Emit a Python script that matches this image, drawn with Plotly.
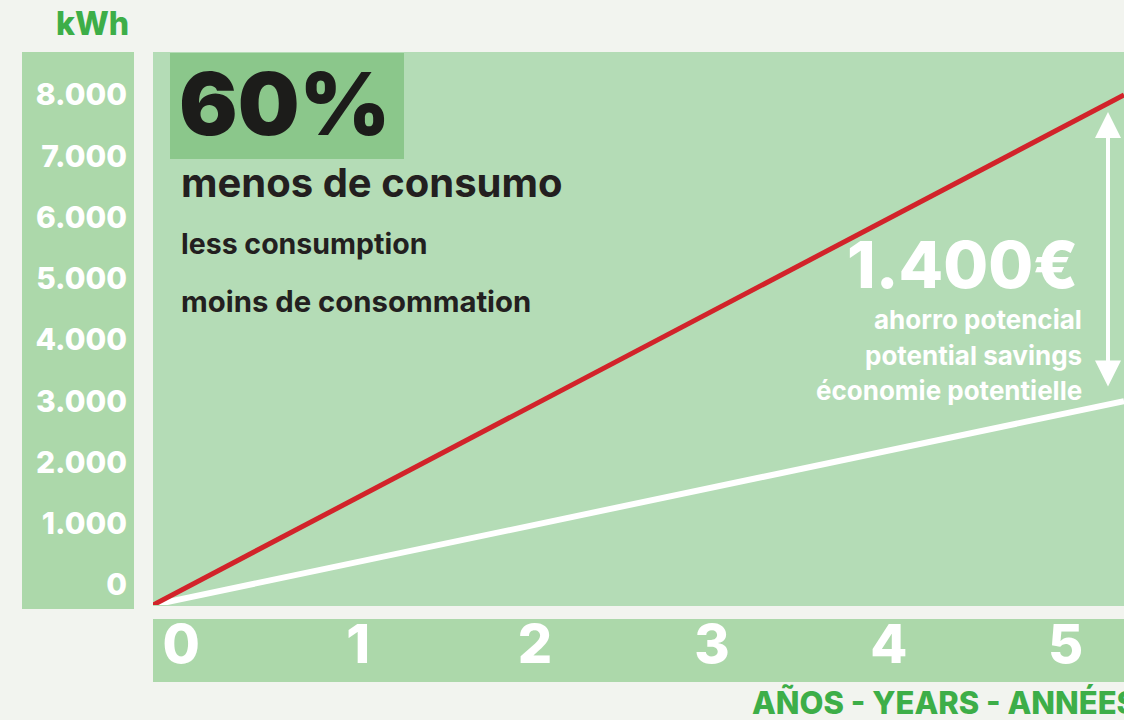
import plotly.graph_objects as go

# ---- data ----
years = [-0.16, 5.33]              # lines run from the lower-left corner to the right edge
kwh_actual = [-330, 8000]          # red line: consumption without saving
kwh_saving = [-330, 3000]          # white line: consumption with 60% saving
x_ticks = [0, 1, 2, 3, 4, 5]
y_ticks = [0, 1000, 2000, 3000, 4000, 5000, 6000, 7000, 8000]
y_tick_text = ["0", "1.000", "2.000", "3.000", "4.000", "5.000", "6.000", "7.000", "8.000"]

W, H = 1124, 720
FONT = "Inter"

def px(x):
    return x / W

def py(y):
    return 1 - y / H

fig = go.Figure()
fig.add_trace(go.Scatter(x=years, y=kwh_saving, mode="lines",
                         line=dict(color="#ffffff", width=6), showlegend=False,
                         hoverinfo="skip"))
fig.add_trace(go.Scatter(x=years, y=kwh_actual, mode="lines",
                         line=dict(color="#d2232a", width=5), showlegend=False,
                         hoverinfo="skip"))

shapes = [
    dict(type="rect", xref="paper", yref="paper", x0=px(22), x1=px(134), y0=py(609), y1=py(52),
         fillcolor="#acd8aa", line=dict(width=0), layer="below"),
    dict(type="rect", xref="paper", yref="paper", x0=px(153), x1=px(1124), y0=py(606), y1=py(52),
         fillcolor="#b4dcb6", line=dict(width=0), layer="below"),
    dict(type="rect", xref="paper", yref="paper", x0=px(153), x1=px(1124), y0=py(682), y1=py(619),
         fillcolor="#acd8aa", line=dict(width=0), layer="below"),
    dict(type="rect", xref="paper", yref="paper", x0=px(170), x1=px(404), y0=py(159), y1=py(53),
         fillcolor="#8bc78b", line=dict(width=0), layer="below"),
]

def txt(text, x, y, size, color, xanchor="left", weight=800):
    return dict(text=text, xref="paper", yref="paper", x=px(x), y=py(y),
                xanchor=xanchor, yanchor="middle", showarrow=False,
                font=dict(family=FONT, size=size, color=color, weight=weight))

annotations = [
    txt("kWh", 131, 24, 32, "#3dae48", xanchor="right"),
    txt("60%", 177, 104, 87, "#1c1c1a", weight=900),
    txt("menos de consumo", 179, 182, 40, "#231f20", weight=700),
    txt("less consumption", 179, 243, 28.5, "#231f20", weight=700),
    txt("moins de consommation", 179, 301, 29.3, "#231f20", weight=700),
    txt("1.400€", 1080, 264, 65, "#ffffff", xanchor="right", weight=800),
    txt("ahorro potencial", 1084, 319, 26, "#ffffff", xanchor="right", weight=700),
    txt("potential savings", 1084, 355, 26, "#ffffff", xanchor="right", weight=700),
    txt("économie potentielle", 1084, 391, 26, "#ffffff", xanchor="right", weight=700),
    txt("AÑOS - YEARS - ANNÉES", 750, 702, 31, "#3dae48", weight=800),
    # double-headed arrow
    dict(xref="paper", yref="paper", axref="pixel", ayref="pixel",
         x=px(1108), y=py(112), ax=0, ay=276, text="",
         showarrow=True, arrowhead=2, startarrowhead=2, arrowside="end+start",
         arrowsize=1.3, startarrowsize=1.3, arrowwidth=4, arrowcolor="#ffffff"),
]

fig.update_layout(
    width=W, height=H,
    margin=dict(l=0, r=0, t=0, b=0),
    paper_bgcolor="#f2f4ef",
    plot_bgcolor="rgba(0,0,0,0)",
    shapes=shapes,
    annotations=annotations,
    xaxis=dict(domain=[px(153), 1], range=[-0.16, 5.33], tickvals=x_ticks,
               showgrid=False, zeroline=False, showline=False, ticks="",
               ticklabelstandoff=3,
               tickfont=dict(family=FONT, size=54, color="#ffffff", weight=800)),
    yaxis=dict(domain=[py(605), py(52)], range=[-330, 8700], tickvals=y_ticks,
               ticktext=y_tick_text,
               showgrid=False, zeroline=False, showline=False, ticks="",
               ticklabelstandoff=25,
               tickfont=dict(family=FONT, size=30, color="#ffffff", weight=800)),
)

fig.write_html("out.html", config={"displayModeBar": False},
               post_script="document.body.style.margin='0';")
